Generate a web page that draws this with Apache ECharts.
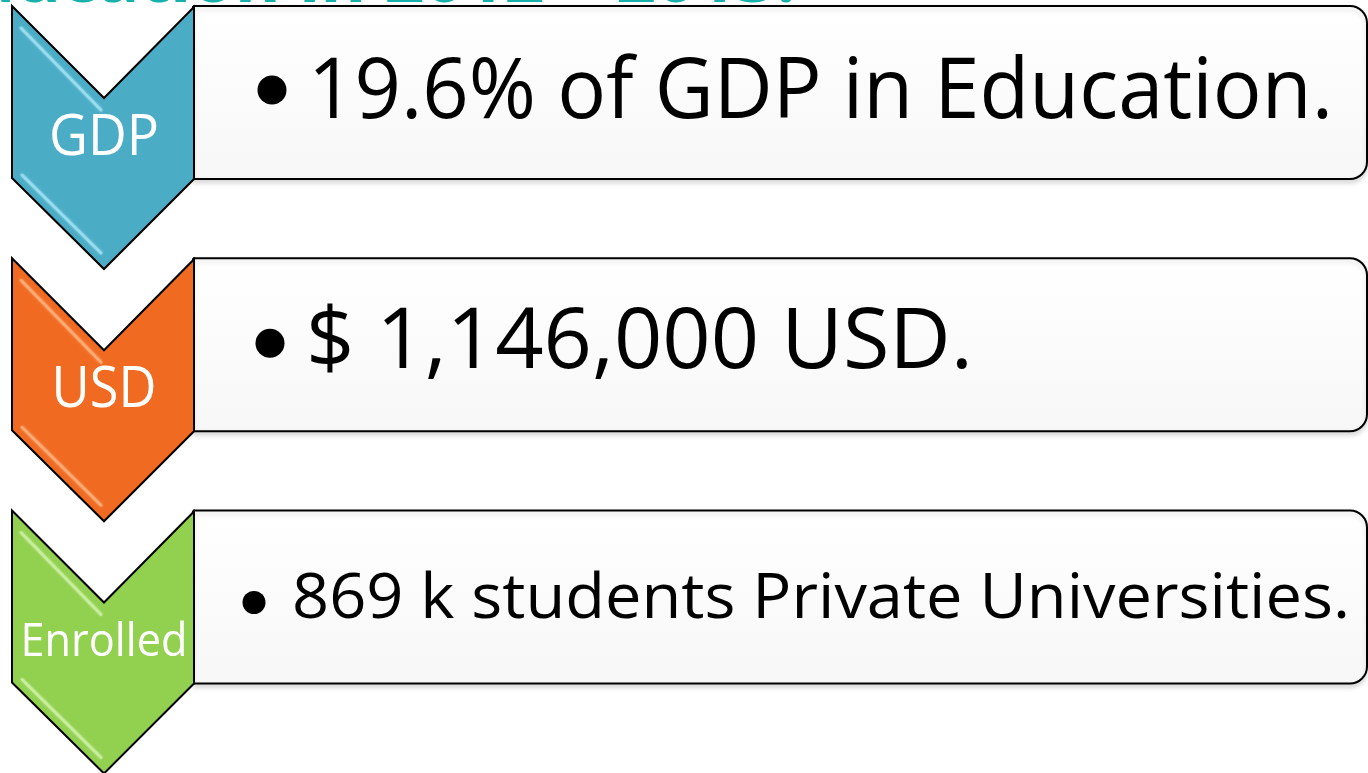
<!DOCTYPE html>
<html>
<head>
<meta charset="utf-8">
<script src="https://cdn.jsdelivr.net/npm/echarts@6/dist/echarts.min.js"></script>
<style>
  html, body { margin: 0; padding: 0; background: #ffffff; }
  #chart { width: 1368px; height: 773px; }
</style>
</head>
<body>
<div id="chart"></div>
<script>
// ---- data ----
const categories = ['GDP', 'USD', 'Enrolled'];
const statements = [
  '19.6% of GDP in Education.',
  '$ 1,146,000 USD.',
  '869 k students Private Universities.'
];
const titleText = 'Education in 2012 – 2013:';

// ---- styles ----
const FONT = '"Open Sans", "Noto Sans", sans-serif';
const chevronColors = ['#4BACC6', '#F06A22', '#92D050'];
const highlightColors = ['#a6e6f5', '#ffb785', '#d2f2ad'];
const statementFont = [84, 84, 62];
const statementX = [308, 306, 292];
const statementWidth = [1025, 667, 1058];
const statementDy = [1, -1, 3];
const bulletX = [272, 270, 254];
const bulletR = [14.5, 14.5, 11.5];
const bulletDy = [-3, -2, 5];
const labelFont = [56, 56, 45];
const labelWidth = [110, 105, 167];

const mctx = document.createElement('canvas').getContext('2d');
function measure(text, size, weight) {
  mctx.font = (weight || 'normal') + ' ' + size + 'px ' + FONT;
  return mctx.measureText(text).width;
}

function renderItem(params, api) {
  const i = params.dataIndex;
  const idx = api.value(1);
  const cy = api.coord([0, idx])[1];
  const X = v => api.coord([v, idx])[0];

  const top = cy - 87, bot = cy + 86;
  const children = [];

  // statement box (rounded on the right side)
  children.push({
    type: 'rect',
    shape: { x: X(193), y: top, width: X(1367) - X(193), height: bot - top, r: [0, 17, 17, 0] },
    style: {
      fill: new echarts.graphic.LinearGradient(0, 0, 0, 1, [
        { offset: 0, color: '#ffffff' }, { offset: 1, color: '#f7f7f7' }
      ]),
      stroke: '#000', lineWidth: 2,
      shadowBlur: 5, shadowOffsetY: 3, shadowColor: 'rgba(0,0,0,0.14)'
    }
  });

  // chevron
  const cx = X(104);
  const pts = [
    [X(12), cy - 87], [cx, cy + 5], [X(194), cy - 86],
    [X(194), cy + 86], [cx, cy + 176], [X(12), cy + 85]
  ];
  children.push({
    type: 'polygon',
    shape: { points: pts },
    style: { fill: chevronColors[i], stroke: '#000', lineWidth: 2, lineJoin: 'miter' }
  });
  // bevel highlights (inset, parallel to the left edges)
  children.push({
    type: 'polyline',
    shape: { points: [[X(21), cy - 65], [cx - 3, cy + 17]] },
    style: { stroke: highlightColors[i], lineWidth: 3, opacity: 0.7, lineCap: 'round',
             shadowBlur: 3, shadowColor: highlightColors[i] }
  });
  children.push({
    type: 'polyline',
    shape: { points: [[X(22), cy + 82], [cx - 3, cy + 160]] },
    style: { stroke: highlightColors[i], lineWidth: 3, opacity: 0.7, lineCap: 'round',
             shadowBlur: 3, shadowColor: highlightColors[i] }
  });

  // chevron label
  const lw = measure(categories[i], labelFont[i], 'normal');
  children.push({
    type: 'text',
    x: cx, y: cy + 46,
    scaleX: labelWidth[i] / lw,
    style: {
      text: categories[i], fill: '#ffffff',
      fontSize: labelFont[i], fontFamily: FONT,
      align: 'center', verticalAlign: 'middle'
    }
  });

  // bullet
  children.push({
    type: 'circle',
    shape: { cx: X(bulletX[i]), cy: cy + bulletDy[i], r: bulletR[i] },
    style: { fill: '#000' }
  });

  // statement text
  const sw = measure(statements[i], statementFont[i], 'normal');
  children.push({
    type: 'text',
    x: X(statementX[i]), y: cy + statementDy[i],
    scaleX: statementWidth[i] / sw,
    style: {
      text: statements[i], fill: '#000',
      fontSize: statementFont[i], fontFamily: FONT,
      align: 'left', verticalAlign: 'middle'
    }
  });

  return { type: 'group', children: children };
}

const chart = echarts.init(document.getElementById('chart'), null, { renderer: 'canvas' });
chart.setOption({
  animation: false,
  backgroundColor: '#ffffff',
  grid: { left: 0, right: 0, top: 93, bottom: 175.5 },
  xAxis: { type: 'value', min: 0, max: 1368, show: false },
  yAxis: { type: 'category', data: categories, inverse: true, show: false, boundaryGap: false },
  graphic: [{
    type: 'text',
    x: 796, y: -18,
    style: {
      text: titleText, fill: '#17B1AC',
      fontSize: 70, fontWeight: 'bold', fontFamily: FONT,
      align: 'right', verticalAlign: 'middle'
    },
    z: 10
  }],
  series: [{
    type: 'custom',
    clip: false,
    silent: true,
    renderItem: renderItem,
    encode: { x: 0, y: 1 },
    data: categories.map(c => [0, c])
  }]
});
</script>
</body>
</html>
